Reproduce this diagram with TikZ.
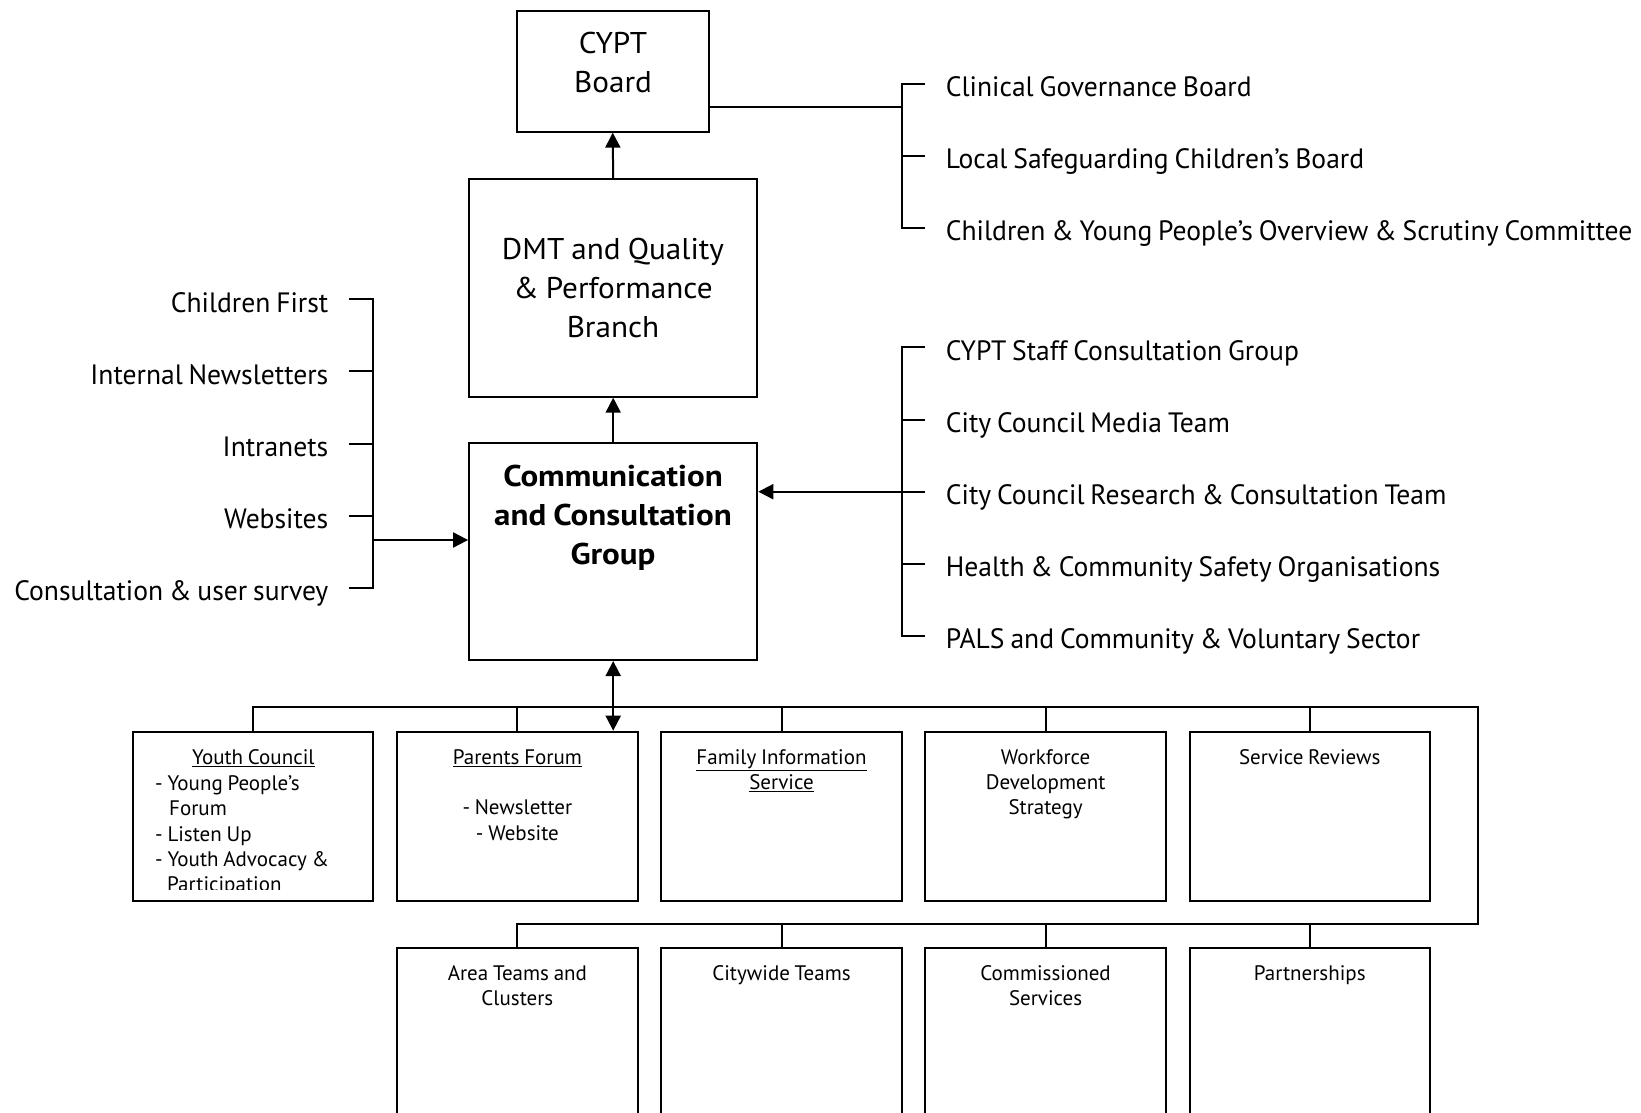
\documentclass[tikz,border=0pt]{standalone}
\usepackage{fontspec}
\setmainfont{PT Sans}[WordSpace=0.85]
\newfontfamily\listfont{PT Sans}[WordSpace=0.8,FakeStretch=0.985]
\newfontfamily\headfont{PT Sans}[WordSpace=0.85,FakeStretch=1.04]
\newfontfamily\commfont{PT Sans}[WordSpace=0.85,FakeStretch=1.1]
\usetikzlibrary{arrows.meta,calc}
\begin{document}
\begin{tikzpicture}[x=1pt,y=-1pt,
  box/.style={draw, line width=2pt, inner sep=0pt},
  conn/.style={line width=2pt, line join=miter},
  arr/.style={conn,-{Triangle[length=15pt,width=15pt]}},
  darr/.style={conn,{Triangle[length=15pt,width=15pt]}-{Triangle[length=15pt,width=15pt]}},
  bigtext/.style={inner sep=0pt, align=center, font=\headfont\fontsize{30}{38.8}\selectfont},
  boldtext/.style={inner sep=0pt, align=center, font=\commfont\fontsize{30}{38.8}\selectfont\bfseries},
  litem/.style={inner sep=0pt, font=\listfont\fontsize{28}{32}\selectfont},
  smalltext/.style={inner sep=0pt, align=center, font=\fontsize{21}{25.3}\selectfont},
  smallleft/.style={inner sep=0pt, align=left, font=\fontsize{21}{25.3}\selectfont},
  topbox/.style={box, minimum width=240.3pt, minimum height=169pt},
  botbox/.style={box, minimum width=240.3pt, minimum height=190pt}
]
\fill[white] (0,0) rectangle (1641,1113);
\clip (0,0) rectangle (1641,1113);

% main boxes
\node[box, minimum width=192pt, minimum height=120.7pt] (cypt) at (612.7,71.3) {};
\node[box, minimum width=288.2pt, minimum height=217.4pt] (dmt) at (613.2,288) {};
\node[box, minimum width=288.2pt, minimum height=216.7pt] (comm) at (613.2,551.7) {};
\node[bigtext, anchor=north] (cyptT) at (613,32.3) {CYPT\\Board};
\node[bigtext, anchor=north] (dmtT) at (613,238.3) {DMT and Quality\\\& Performance\\Branch};
\node[boldtext, anchor=north] (commT) at (613,465) {Communication\\and Consultation\\Group};

\draw[arr] (dmt.north) -- (cypt.south);
\draw[arr] (comm.north) -- (dmt.south);

% right top list
\coordinate (rtv) at (901.7,107);
\coordinate (rt1) at (901.7,84);
\coordinate (rt2) at (901.7,156);
\coordinate (rt3) at (901.7,228);
\draw[conn] (cypt.east |- rtv) -- (rtv);
\draw[conn] ($(rt1)+(23.3,0)$) -- (rt1) -- (rt3) -- ($(rt3)+(23.3,0)$);
\draw[conn] (rt2) -- ($(rt2)+(23.3,0)$);
\node[litem, anchor=base west] (cgb) at (945.7,96.7) {Clinical Governance Board};
\node[litem, anchor=base west] (lscb) at (945.7,168.7) {Local Safeguarding Children’s Board};
\node[litem, anchor=base west] (cyp) at (945.7,240.7) {Children \& Young People’s Overview \& Scrutiny Committee};

% right lower list
\coordinate (rl1) at (901.7,347.3);
\coordinate (rl2) at (901.7,419.5);
\coordinate (rl3) at (901.7,491.7);
\coordinate (rl4) at (901.7,563.9);
\coordinate (rl5) at (901.7,636.1);
\draw[conn] ($(rl1)+(23.3,0)$) -- (rl1) -- (rl5) -- ($(rl5)+(23.3,0)$);
\foreach \c in {rl2,rl3,rl4} \draw[conn] (\c) -- ($(\c)+(23.3,0)$);
\draw[arr] (rl3) -- (comm.east |- rl3);
\node[litem, anchor=base west] (csc) at (945.7,360) {CYPT Staff Consultation Group};
\node[litem, anchor=base west] (ccm) at (945.7,432.2) {City Council Media Team};
\node[litem, anchor=base west] (ccr) at (945.7,504.4) {City Council Research \& Consultation Team};
\node[litem, anchor=base west] (hcs) at (945.7,576.6) {Health \& Community Safety Organisations};
\node[litem, anchor=base west] (pals) at (945.7,648.8) {PALS and Community \& Voluntary Sector};

% left list
\coordinate (ll1) at (373,299.3);
\coordinate (ll2) at (373,371.4);
\coordinate (ll3) at (373,443.5);
\coordinate (ll4) at (373,515.6);
\coordinate (ll5) at (373,587.7);
\coordinate (lla) at (373,540);
\draw[conn] ($(ll1)+(-23.6,0)$) -- (ll1) -- (ll5) -- ($(ll5)+(-23.6,0)$);
\foreach \c in {ll2,ll3,ll4} \draw[conn] (\c) -- ($(\c)+(-23.6,0)$);
\draw[arr] (lla) -- (comm.west |- lla);
\node[litem, anchor=base east] (cf) at (328.5,312) {Children First};
\node[litem, anchor=base east] (inl) at (328.5,384.1) {Internal Newsletters};
\node[litem, anchor=base east] (intr) at (328.5,456.2) {Intranets};
\node[litem, anchor=base east] (web) at (328.5,528.3) {Websites};
\node[litem, anchor=base east] (cus) at (328.5,600.4) {Consultation \& user survey};

% bottom boxes
\node[topbox] (yc) at (253.3,816.2) {};
\node[topbox] (pf) at (517.4,816.2) {};
\node[topbox] (fis) at (781.5,816.2) {};
\node[topbox] (wds) at (1045.6,816.2) {};
\node[topbox] (sr) at (1309.7,816.2) {};
\node[botbox] (atc) at (517.4,1042.7) {};
\node[botbox] (cwt) at (781.5,1042.7) {};
\node[botbox] (cs) at (1045.6,1042.7) {};
\node[botbox] (ps) at (1309.7,1042.7) {};

\draw[darr] (comm.south) -- (comm.south |- yc.north);
\coordinate (busR) at (1477.5,707.3);
\coordinate (bus2R) at (1477.5,924);
\draw[conn] (yc.north) |- (busR) -- (bus2R) -| (atc.north);
\foreach \b in {pf,fis,wds,sr} \draw[conn] (\b.north) -- (\b.north |- busR);
\foreach \b in {cwt,cs,ps} \draw[conn] (\b.north) -- (\b.north |- bus2R);

% box texts
\node[smalltext, anchor=north] (ycT) at (253.3,749.3) {\underline{Youth Council}};
\begin{scope}
\clip (130,740) rectangle (380,889.5);
\node[smallleft, anchor=north west] (ycL) at (155,775.5) {- Young People’s\\\hspace{14pt}Forum\\- Listen Up\\- Youth Advocacy \&\\\hspace{12pt}Participation};
\end{scope}
\node[smalltext, anchor=north] (pfT) at (517.4,749.3) {\underline{Parents Forum}\\\mbox{}\\- Newsletter\\- Website};
\node[smalltext, anchor=north] (fisT) at (781.5,749.3) {\underline{Family Information}\\\underline{Service}};
\node[smalltext, anchor=north] (wdsT) at (1045.6,749.3) {Workforce\\Development\\Strategy};
\node[smalltext, anchor=north] (srT) at (1309.7,749.3) {Service Reviews};
\node[smalltext, anchor=north] (atcT) at (517.4,965) {Area Teams and\\Clusters};
\node[smalltext, anchor=north] (cwtT) at (781.5,965) {Citywide Teams};
\node[smalltext, anchor=north] (csT) at (1045.6,965) {Commissioned\\Services};
\node[smalltext, anchor=north] (psT) at (1309.7,965) {Partnerships};
\end{tikzpicture}
\end{document}
